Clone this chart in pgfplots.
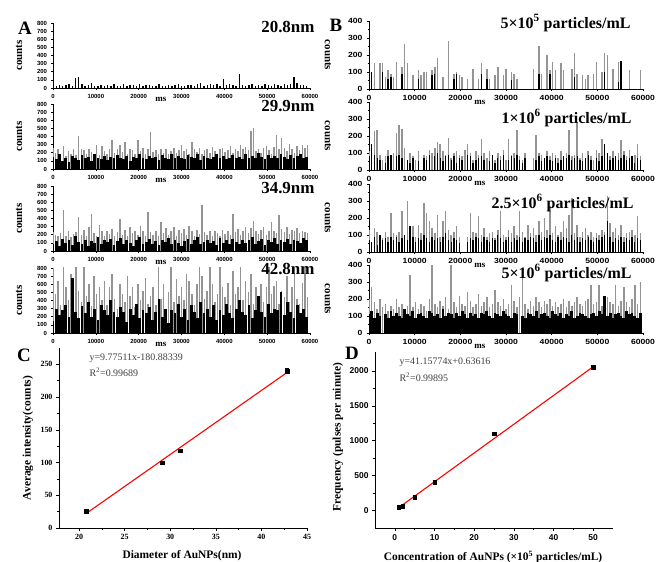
\documentclass[border=0pt]{standalone}
\usepackage{fontspec}
\setmainfont{Liberation Serif}
\setsansfont{Liberation Sans}
\usepackage{pgfplots}
\pgfplotsset{compat=1.18}

\newcommand\fs[1]{\fontsize{#1}{#1}\selectfont}
% one column of counts, evenly spaced in time
\newcommand\trace[3]{\addplot[#1] table[row sep=\\, header=false, x expr=\coordindex*#2, y index=0] {#3};}

\pgfplotsset{
  trace/.style={scale only axis, axis lines*=left, tick align=outside,
    xmin=0, xmax=60000, ymin=0, xtick={0,10000,...,60000}, minor x tick num=1,
    scaled x ticks=false, /pgf/number format/assume math mode=true,
    /pgf/number format/set thousands separator={},
    major tick length=2.5bp, minor tick length=1.5bp,
    every tick/.style={black, line width=0.5bp}, axis line style={line width=0.6bp}},
  traceA/.style={trace, width=257bp, height=65bp, ymax=800, ytick={0,100,...,800},
    ticklabel style={font=\sffamily\bfseries\fs{6}},
    xlabel={ms}, xlabel style={at={(axis description cs:0.42,-0.17)}, anchor=center, font=\bfseries\fs{9}},
    ylabel={counts}, ylabel style={at={(axis description cs:-0.132,0.5)}, anchor=center, font=\bfseries\fs{11}}},
  traceB/.style={trace, width=274bp, height=68bp, ymax=400, ytick={0,100,...,400}, minor y tick num=1,
    ticklabel style={font=\sffamily\bfseries\fs{7.5}, xscale=1.15},
    xlabel={ms}, xlabel style={at={(axis description cs:0.405,-0.2)}, anchor=center, font=\bfseries\fs{9}},
    ylabel={counts}, ylabel style={at={(axis description cs:-0.15,0.5)}, anchor=center, rotate=180, font=\bfseries\fs{11}}},
  gr/.style={ycomb, no marks, draw=black!42, line width=1.5bp},
  bk/.style={ycomb, no marks, draw=black, line width=1.4bp},
  bkd/.style={ycomb, no marks, draw=black, line width=2.8bp},
  fit/.style={scale only axis, axis lines*=left, tick align=outside,
    major tick length=3bp, minor tick length=1.8bp,
    /pgf/number format/assume math mode=true,
    /pgf/number format/set thousands separator={},
    every tick/.style={black, line width=0.5bp}, axis line style={line width=0.6bp}},
}

\begin{document}
\begin{tikzpicture}
\useasboundingbox (0,0) rectangle (656bp,562bp);

% ---------------- A: four sizes ----------------
\begin{axis}[traceA, at={(53bp,474bp)}, anchor=south west]
\trace{bk}{750}{30\\25\\40\\20\\35\\45\\30\\120\\140\\50\\25\\35\\60\\30\\20\\40\\25\\35\\30\\45\\30\\20\\50\\25\\40\\35\\30\\55\\20\\40\\35\\25\\30\\45\\20\\30\\40\\25\\35\\50\\30\\20\\40\\35\\25\\45\\60\\30\\40\\55\\35\\45\\30\\110\\40\\50\\35\\30\\170\\40\\25\\35\\45\\30\\40\\25\\50\\35\\30\\45\\40\\30\\55\\35\\45\\140\\60\\40\\35\\30\\}
\end{axis}

\begin{axis}[traceA, at={(53bp,393bp)}, anchor=south west]
\trace{gr}{600}{260\\200\\240\\180\\280\\160\\220\\190\\250\\170\\400\\250\\230\\180\\240\\210\\190\\300\\170\\280\\220\\190\\250\\360\\200\\240\\300\\210\\330\\180\\250\\230\\190\\360\\220\\260\\180\\240\\450\\210\\230\\190\\250\\200\\240\\180\\220\\260\\200\\230\\300\\220\\250\\190\\330\\240\\210\\260\\180\\230\\250\\200\\270\\220\\190\\240\\260\\210\\230\\280\\200\\250\\220\\300\\240\\270\\230\\470\\510\\220\\250\\200\\260\\280\\230\\190\\270\\420\\240\\380\\260\\220\\310\\250\\200\\280\\230\\300\\260\\300\\}
\trace{bkd}{750}{150\\120\\180\\100\\140\\90\\160\\130\\110\\170\\130\\150\\100\\180\\140\\120\\160\\110\\150\\130\\170\\140\\120\\160\\100\\150\\130\\190\\140\\120\\160\\130\\150\\110\\170\\140\\120\\180\\130\\160\\140\\120\\170\\150\\130\\190\\110\\160\\140\\120\\150\\180\\130\\160\\120\\140\\170\\130\\150\\120\\180\\140\\160\\130\\200\\150\\120\\170\\140\\160\\130\\180\\150\\120\\170\\140\\160\\190\\130\\150\\}
\end{axis}

\begin{axis}[traceA, at={(53bp,311bp)}, anchor=south west]
\trace{gr}{600}{230\\200\\180\\220\\500\\190\\240\\170\\210\\230\\420\\200\\260\\180\\300\\450\\220\\190\\320\\240\\180\\250\\210\\270\\190\\230\\390\\200\\260\\180\\290\\220\\250\\200\\310\\240\\180\\480\\230\\200\\250\\190\\360\\220\\280\\200\\240\\300\\190\\260\\220\\270\\200\\310\\240\\180\\260\\210\\570\\230\\200\\250\\190\\240\\220\\180\\260\\210\\240\\200\\460\\230\\270\\200\\250\\300\\220\\280\\370\\240\\210\\260\\290\\200\\240\\360\\250\\220\\440\\270\\230\\300\\210\\260\\240\\280\\220\\250\\230\\220\\}
\trace{bkd}{750}{80\\120\\60\\150\\100\\130\\70\\180\\110\\90\\140\\60\\120\\100\\170\\80\\130\\110\\150\\70\\120\\160\\90\\140\\100\\60\\130\\170\\80\\110\\150\\90\\120\\70\\140\\110\\160\\80\\130\\100\\60\\120\\150\\90\\130\\170\\80\\110\\140\\100\\120\\70\\160\\100\\130\\90\\150\\110\\80\\140\\100\\130\\170\\90\\120\\150\\70\\140\\110\\160\\90\\130\\110\\150\\80\\140\\120\\100\\160\\130\\}
\end{axis}

\begin{axis}[traceA, at={(53bp,229bp)}, anchor=south west]
\trace{gr}{600}{800\\480\\640\\350\\820\\560\\400\\720\\300\\850\\520\\380\\900\\460\\600\\330\\700\\480\\560\\400\\640\\350\\560\\720\\420\\300\\600\\480\\380\\700\\450\\560\\320\\600\\400\\520\\680\\360\\450\\560\\350\\850\\420\\600\\300\\500\\820\\380\\660\\460\\560\\400\\720\\640\\480\\350\\600\\820\\700\\420\\520\\850\\600\\380\\480\\900\\560\\440\\620\\350\\760\\480\\560\\820\\400\\640\\500\\720\\360\\560\\440\\600\\380\\560\\820\\480\\580\\640\\360\\520\\440\\700\\380\\560\\800\\420\\360\\620\\820\\440\\}
\trace{bkd}{750}{150\\300\\220\\280\\350\\200\\680\\260\\180\\330\\240\\380\\200\\300\\160\\350\\280\\220\\400\\260\\200\\320\\260\\140\\300\\220\\360\\180\\280\\240\\320\\160\\260\\420\\200\\300\\120\\280\\240\\360\\200\\300\\160\\340\\260\\180\\380\\240\\300\\200\\340\\160\\280\\220\\360\\240\\180\\300\\400\\260\\220\\340\\180\\280\\460\\260\\200\\360\\240\\300\\280\\500\\220\\380\\260\\180\\340\\240\\300\\200\\}
\end{axis}

% ---------------- B: four concentrations ----------------
\begin{axis}[traceB, at={(369bp,473bp)}, anchor=south west]
\trace{gr}{600}{0\\0\\155\\0\\155\\150\\70\\110\\90\\70\\160\\0\\130\\265\\150\\0\\80\\0\\110\\80\\100\\100\\0\\110\\130\\180\\0\\70\\0\\280\\0\\90\\100\\80\\70\\0\\60\\0\\120\\0\\60\\150\\0\\120\\60\\0\\80\\130\\0\\80\\120\\0\\100\\90\\60\\0\\0\\0\\0\\0\\120\\0\\250\\90\\0\\200\\110\\160\\110\\0\\150\\110\\0\\0\\120\\210\\90\\0\\80\\60\\80\\0\\90\\160\\0\\100\\210\\200\\0\\120\\0\\160\\0\\0\\0\\110\\0\\0\\0\\110\\}
\addplot[bk] coordinates {(600,100) (3000,100) (4200,60) (4800,70) (7200,90) (10800,60)
  (13800,80) (14400,90) (18600,60) (19200,90) (24600,90) (25800,60) (31200,50)
  (37200,90) (39600,90) (45000,70) (51600,100) (54600,40) (55200,165)};
\end{axis}

\begin{axis}[traceB, at={(369bp,392bp)}, anchor=south west]
\trace{gr}{600}{110\\150\\230\\235\\90\\60\\80\\120\\40\\100\\220\\265\\240\\130\\60\\100\\80\\60\\110\\0\\90\\80\\120\\100\\130\\165\\150\\110\\90\\190\\70\\100\\110\\90\\80\\120\\150\\100\\60\\110\\90\\180\\100\\70\\110\\90\\60\\100\\80\\120\\60\\180\\90\\100\\235\\80\\60\\100\\0\\0\\70\\205\\100\\90\\60\\110\\80\\100\\90\\70\\110\\60\\100\\235\\80\\90\\280\\70\\100\\60\\110\\80\\60\\120\\100\\180\\90\\60\\80\\110\\70\\100\\175\\110\\80\\120\\60\\90\\150\\80\\}
\trace{bk}{600}{80\\150\\90\\70\\60\\0\\40\\80\\90\\0\\80\\90\\70\\0\\60\\40\\70\\0\\50\\0\\70\\60\\90\\0\\80\\100\\70\\50\\80\\90\\60\\80\\40\\70\\60\\0\\90\\80\\40\\60\\70\\80\\60\\0\\50\\90\\40\\70\\60\\90\\0\\60\\80\\70\\90\\60\\40\\70\\0\\0\\0\\60\\80\\50\\70\\80\\60\\50\\70\\40\\60\\80\\70\\90\\60\\70\\80\\60\\50\\70\\90\\60\\0\\70\\50\\80\\150\\100\\60\\70\\80\\60\\70\\90\\60\\70\\80\\40\\70\\60\\}
\end{axis}

\begin{axis}[traceB, at={(369bp,310bp)}, anchor=south west]
\trace{gr}{600}{130\\60\\140\\120\\100\\80\\120\\90\\230\\110\\100\\120\\240\\80\\300\\110\\150\\90\\160\\110\\290\\230\\180\\140\\110\\220\\90\\180\\240\\130\\100\\120\\150\\90\\0\\0\\90\\230\\120\\110\\210\\100\\140\\90\\110\\120\\80\\130\\240\\100\\90\\130\\110\\150\\100\\240\\120\\90\\160\\110\\140\\100\\180\\120\\200\\130\\270\\110\\150\\100\\120\\180\\140\\220\\320\\110\\160\\90\\120\\140\\100\\120\\90\\110\\100\\130\\120\\330\\170\\120\\140\\100\\160\\90\\110\\120\\130\\100\\210\\110\\}
\trace{bk}{600}{70\\60\\90\\40\\100\\70\\80\\60\\90\\70\\90\\60\\80\\100\\70\\150\\90\\60\\80\\70\\100\\80\\60\\90\\70\\80\\60\\90\\110\\70\\60\\80\\70\\50\\0\\0\\60\\80\\70\\90\\80\\60\\90\\70\\60\\80\\70\\100\\80\\60\\70\\90\\60\\80\\70\\90\\60\\80\\70\\90\\80\\60\\100\\70\\90\\80\\100\\70\\60\\90\\70\\90\\80\\60\\100\\70\\90\\60\\80\\70\\90\\70\\60\\80\\70\\90\\100\\180\\90\\60\\80\\70\\90\\60\\80\\70\\90\\60\\80\\70\\}
\end{axis}

\begin{axis}[traceB, at={(369bp,229bp)}, anchor=south west]
\trace{gr}{600}{200\\270\\180\\140\\200\\150\\170\\130\\160\\140\\200\\150\\170\\130\\160\\340\\150\\180\\140\\170\\160\\130\\200\\400\\170\\150\\190\\160\\210\\140\\400\\180\\150\\220\\170\\160\\240\\190\\150\\170\\230\\160\\180\\210\\150\\170\\250\\180\\160\\200\\140\\170\\280\\190\\150\\210\\350\\170\\140\\190\\160\\210\\180\\150\\190\\170\\200\\160\\180\\150\\170\\200\\150\\190\\160\\180\\210\\170\\160\\190\\200\\280\\170\\180\\280\\160\\190\\210\\180\\170\\280\\160\\190\\270\\180\\150\\200\\280\\170\\300\\}
\trace{bkd}{600}{110\\130\\90\\120\\100\\0\\110\\90\\130\\100\\120\\100\\90\\140\\110\\100\\130\\90\\110\\120\\100\\90\\130\\120\\100\\110\\90\\140\\100\\120\\110\\90\\120\\100\\130\\110\\90\\120\\100\\110\\90\\120\\110\\130\\100\\90\\120\\110\\100\\130\\110\\100\\90\\120\\110\\0\\100\\90\\120\\110\\100\\130\\90\\110\\120\\100\\90\\130\\110\\100\\120\\90\\110\\100\\130\\90\\100\\120\\110\\100\\90\\110\\120\\100\\130\\110\\220\\100\\120\\90\\110\\120\\100\\90\\130\\110\\120\\100\\90\\120\\}
\end{axis}

% ---------------- C: intensity vs diameter ----------------
\begin{axis}[fit, width=248bp, height=180bp, at={(59bp,34bp)}, anchor=south west,
  xmin=17.8, xmax=45, ymin=0, ymax=275,
  xtick={20,25,...,45}, ytick={0,50,...,250}, minor x tick num=1, minor y tick num=1,
  ticklabel style={font=\bfseries\fs{8}}]
\addplot[red, line width=1.1bp] coordinates {(20.8,22.4) (42.8,237.5)};
\addplot[only marks, mark=square*, mark size=1.8bp, black,
  error bars/.cd, y dir=both, y explicit] coordinates {
  (20.8,26) +- (0,2) (29.1,100) +- (0,2) (31.1,118) +- (0,2) (42.8,240) +- (0,4)};
\end{axis}

% ---------------- D: frequency vs concentration ----------------
\begin{axis}[fit, width=238bp, height=176bp, at={(375bp,34bp)}, anchor=south west,
  xmin=-5, xmax=55, ymin=-250, ymax=2270,
  xtick={0,10,...,50}, ytick={0,500,...,2000}, minor x tick num=1, minor y tick num=1,
  ticklabel style={font=\sffamily\bfseries\fs{8.5}}]
\addplot[red, line width=1.1bp] coordinates {(1,41.8) (50,2058.5)};
\addplot[only marks, mark=square*, mark size=1.8bp, black,
  error bars/.cd, y dir=both, y explicit] coordinates {
  (1,45) +- (0,8) (2,60) +- (0,8) (5,195) +- (0,15) (10,410) +- (0,20)
  (25,1100) +- (0,20) (50,2050) +- (0,15)};
\end{axis}

% ---------------- panel letters, titles, labels ----------------
\node[font=\bfseries\fs{19}] at (25bp,534bp) {A};
\node[font=\bfseries\fs{19}] at (336bp,537bp) {B};
\node[font=\bfseries\fs{19}] at (24bp,207bp) {C};
\node[font=\bfseries\fs{19}] at (352bp,209bp) {D};

\node[anchor=east, font=\bfseries\fs{17}] at (318bp,535bp) {20.8nm};
\node[anchor=east, font=\bfseries\fs{17}] at (318bp,456bp) {29.9nm};
\node[anchor=east, font=\bfseries\fs{17}] at (318bp,374bp) {34.9nm};
\node[anchor=east, font=\bfseries\fs{17}] at (318bp,293bp) {42.8nm};

\node[anchor=east, font=\bfseries\fs{16}] at (634bp,539bp) {5×10\textsuperscript{5} particles/mL};
\node[anchor=east, font=\bfseries\fs{16}] at (635bp,444bp) {1×10\textsuperscript{6} particles/mL};
\node[anchor=east, font=\bfseries\fs{16}] at (637bp,359bp) {2.5×10\textsuperscript{6} particles/mL};
\node[anchor=east, font=\bfseries\fs{16}] at (635bp,289bp) {5×10\textsuperscript{6} particles/mL};

\node[rotate=90, font=\bfseries\fs{11.5}] at (28bp,124bp) {Average intensity(counts)};
\node[font=\bfseries\fs{11.5}] at (182bp,6bp) {Diameter of AuNPs(nm)};
\node[anchor=west, font=\fs{10}, text=black!75] at (86bp,204bp) {y=9.77511x-180.88339};
\node[anchor=west, font=\fs{10}, text=black!75] at (86bp,190bp) {R\textsuperscript{2}=0.99689};

\node[rotate=90, font=\bfseries\fs{11.5}] at (338bp,125bp) {Frequency (pulses per minute)};
\node[font=\bfseries\fs{11.5}] at (493bp,5bp) {Concentration of AuNPs (×10\textsuperscript{5} particles/mL)};
\node[anchor=west, font=\fs{10}, text=black!75] at (396bp,200bp) {y=41.15774x+0.63616};
\node[anchor=west, font=\fs{10}, text=black!75] at (396bp,185bp) {R\textsuperscript{2}=0.99895};
\end{tikzpicture}
\end{document}
